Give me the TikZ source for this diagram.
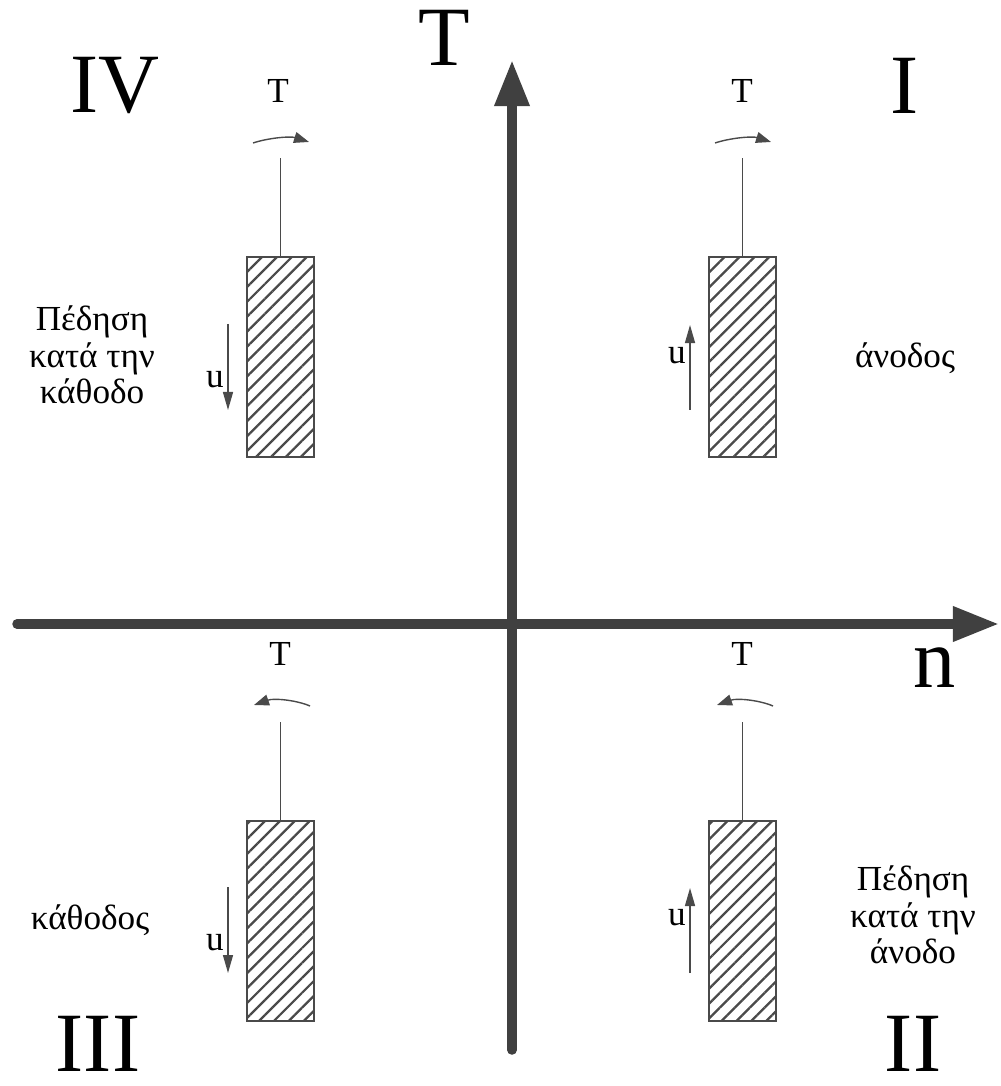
\documentclass[tikz,border=0pt]{standalone}
\usepackage{fontspec}
\setmainfont{Liberation Serif}
\usetikzlibrary{arrows.meta,patterns.meta}
\definecolor{axisgray}{HTML}{404040}
\definecolor{boxgray}{HTML}{4A4A4A}

\begin{document}
\begin{tikzpicture}[x=0.01cm,y=-0.01cm, every node/.style={font=\fontsize{10}{10.4}\selectfont, align=center, inner sep=0pt},
  axis/.style={draw=axisgray, line width=2.7pt, line cap=round, -{Triangle[length=0.46cm,width=0.33cm]}},
  rotor/.style={draw=boxgray, line width=0.6pt, minimum width=0.67cm, minimum height=2cm,
    pattern={Lines[angle=45,distance=3pt,line width=0.65pt]}, pattern color=boxgray},
  shaft/.style={draw=boxgray, line width=0.4pt},
  torque/.style={draw=boxgray, line width=0.4pt, -{Triangle[length=0.15cm,width=0.11cm]}},
  speed/.style={draw=boxgray, line width=0.4pt, -{Triangle[length=0.18cm,width=0.1cm]}},
  big/.style={font=\fontsize{24}{28}\selectfont},
  small/.style={font=\fontsize{10}{12}\selectfont}]
\useasboundingbox (0,0) rectangle (1000,1086);

\coordinate (west) at (17,624);
\coordinate (east) at (999,624);
\coordinate (south) at (512,1050);
\coordinate (north) at (512,60);
\draw[axis] (west) -- (east);
\draw[axis] (south) -- (north);
\node[big] (Tlabel) at (444,38) {T};
\node[big] (nlabel) at (935,668) {n};

\node[big] (quadIV) at (115,86) {IV};
\node[big] (quadI) at (905,86) {I};
\node[big] (quadIII) at (98,1044) {III};
\node[big] (quadII) at (913,1044) {II};

\node[rotor] (rotorIV) at (280.5,357) {};
\node[rotor] (rotorI) at (742.5,357) {};
\node[rotor] (rotorIII) at (280.5,921) {};
\node[rotor] (rotorII) at (742.5,921) {};

\coordinate (shaftIV) at (280.5,158);
\coordinate (shaftI) at (742.5,158);
\coordinate (shaftIII) at (280.5,722);
\coordinate (shaftII) at (742.5,722);
\draw[shaft] (rotorIV) -- (shaftIV);
\draw[shaft] (rotorI) -- (shaftI);
\draw[shaft] (rotorIII) -- (shaftIII);
\draw[shaft] (rotorII) -- (shaftII);

\coordinate (tqIVa) at (253,143);
\coordinate (tqIVb) at (309,142);
\coordinate (tqIa) at (715,143);
\coordinate (tqIb) at (771,142);
\coordinate (tqIIIa) at (310,706);
\coordinate (tqIIIb) at (254,705);
\coordinate (tqIIa) at (773,706);
\coordinate (tqIIb) at (717,705);
\draw[torque] (tqIVa) .. controls (268,138) and (290,136) .. (tqIVb);
\draw[torque] (tqIa) .. controls (730,138) and (752,136) .. (tqIb);
\draw[torque] (tqIIIa) .. controls (296,700) and (274,698) .. (tqIIIb);
\draw[torque] (tqIIa) .. controls (759,700) and (737,698) .. (tqIIb);
\node[small] (tIV) at (278,91) {T};
\node[small] (tI) at (742,91) {T};
\node[small] (tIII) at (280,654) {T};
\node[small] (tII) at (742,654) {T};

\coordinate (uIVa) at (228,324);
\coordinate (uIVb) at (228,410);
\coordinate (uIa) at (690,410);
\coordinate (uIb) at (690,325);
\coordinate (uIIIa) at (228,887);
\coordinate (uIIIb) at (228,973);
\coordinate (uIIa) at (690,973);
\coordinate (uIIb) at (690,888);
\draw[speed] (uIVa) -- (uIVb);
\draw[speed] (uIa) -- (uIb);
\draw[speed] (uIIIa) -- (uIIIb);
\draw[speed] (uIIa) -- (uIIb);
\node[small] (vIV) at (215,380) {u};
\node[small] (vI) at (677,356) {u};
\node[small] (vIII) at (215,943) {u};
\node[small] (vII) at (677,918) {u};

\node (modeIV) at (92,355) {Πέδηση\\κατά την\\κάθοδο};
\node (modeI) at (905,358) {άνοδος};
\node (modeIII) at (90,920) {κάθοδος};
\node (modeII) at (913,915) {Πέδηση\\κατά την\\άνοδο};
\end{tikzpicture}
\end{document}
